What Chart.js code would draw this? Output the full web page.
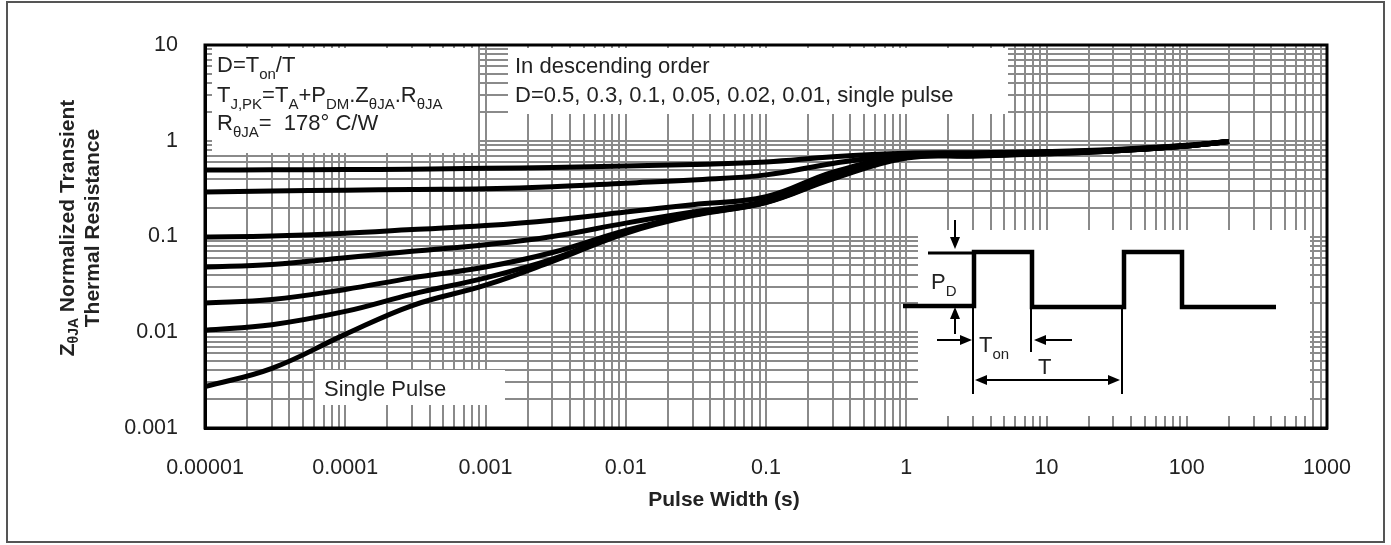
<!DOCTYPE html>
<html>
<head>
<meta charset="utf-8">
<script src="https://cdn.jsdelivr.net/npm/chart.js@4.4.0/dist/chart.umd.min.js"></script>
<style>
  html, body { margin: 0; padding: 0; background: #fff; }
  canvas { display: block; }
</style>
</head>
<body>
<canvas id="chartZth" width="1391" height="545"></canvas>
<script>
// pulse width (s) and normalized Zth for each duty cycle
const pulseWidth = [1e-5, 3e-5, 1e-4, 3e-4, 1e-3, 3e-3, 1e-2, 3e-2, 1e-1, 3e-1, 1, 3, 10, 30, 100, 200];
const dutyLabels = ['D=0.5', 'D=0.3', 'D=0.1', 'D=0.05', 'D=0.02', 'D=0.01', 'Single Pulse'];
const zD05 = [0.495, 0.497, 0.50, 0.505, 0.515, 0.525, 0.545, 0.565, 0.60, 0.68, 0.74, 0.75, 0.77, 0.81, 0.90, 0.98];
const zD03 = [0.292, 0.298, 0.305, 0.31, 0.315, 0.33, 0.36, 0.39, 0.44, 0.58, 0.72, 0.74, 0.76, 0.80, 0.89, 0.98];
const zD01 = [0.099, 0.101, 0.108, 0.118, 0.13, 0.148, 0.18, 0.215, 0.26, 0.47, 0.70, 0.72, 0.75, 0.79, 0.89, 0.98];
const zD005 = [0.048, 0.051, 0.06, 0.07, 0.082, 0.10, 0.138, 0.18, 0.235, 0.44, 0.69, 0.71, 0.74, 0.79, 0.88, 0.98];
const zD002 = [0.0202, 0.022, 0.028, 0.037, 0.048, 0.068, 0.116, 0.17, 0.23, 0.42, 0.68, 0.70, 0.74, 0.78, 0.88, 0.98];
const zD001 = [0.0105, 0.012, 0.0165, 0.025, 0.037, 0.058, 0.112, 0.168, 0.228, 0.41, 0.67, 0.70, 0.73, 0.78, 0.88, 0.98];
const zSingle = [0.0027, 0.0042, 0.0095, 0.019, 0.031, 0.055, 0.108, 0.165, 0.226, 0.40, 0.66, 0.69, 0.73, 0.78, 0.88, 0.98];

const xTickLabels = ['0.00001', '0.0001', '0.001', '0.01', '0.1', '1', '10', '100', '1000'];
const yTickLabels = ['0.001', '0.01', '0.1', '1', '10'];

const series = [zD05, zD03, zD01, zD005, zD002, zD001, zSingle];

// every 1..9 x 10^n tick so the grid gets all minor lines
function logTicks(minExp, maxExp) {
    const t = [];
    for (let e = minExp; e < maxExp; e++) {
        for (let m = 1; m < 10; m++) t.push({ value: m * Math.pow(10, e) });
    }
    t.push({ value: Math.pow(10, maxExp) });
    return t;
}

function decadeLabel(labels, minExp) {
    return function (value) {
        const lg = Math.log10(value);
        if (Math.abs(lg - Math.round(lg)) > 1e-6) return '';
        return labels[Math.round(lg) - minExp] || '';
    };
}

// text with subscripts: parts = [[text, isSub], ...]
function richText(ctx, parts, x, y, size, bold, align) {
    const mainFont = (bold ? 'bold ' : '') + size + 'px Arial';
    const subFont = (bold ? 'bold ' : '') + Math.round(size * 0.66) + 'px Arial';
    let w = 0;
    parts.forEach(p => { ctx.font = p[1] ? subFont : mainFont; w += ctx.measureText(p[0]).width; });
    let cx = align === 'center' ? x - w / 2 : x;
    ctx.textAlign = 'left';
    parts.forEach(p => {
        ctx.font = p[1] ? subFont : mainFont;
        ctx.fillText(p[0], cx, p[1] ? y + size * 0.3 : y);
        cx += ctx.measureText(p[0]).width;
    });
}

function arrowHead(ctx, x, y, dir) {
    const s = 7, h = 12;
    ctx.beginPath();
    if (dir === 'down') { ctx.moveTo(x, y); ctx.lineTo(x - s / 1.4, y - h); ctx.lineTo(x + s / 1.4, y - h); }
    if (dir === 'up') { ctx.moveTo(x, y); ctx.lineTo(x - s / 1.4, y + h); ctx.lineTo(x + s / 1.4, y + h); }
    if (dir === 'right') { ctx.moveTo(x, y); ctx.lineTo(x - h, y - s / 1.4); ctx.lineTo(x - h, y + s / 1.4); }
    if (dir === 'left') { ctx.moveTo(x, y); ctx.lineTo(x + h, y - s / 1.4); ctx.lineTo(x + h, y + s / 1.4); }
    ctx.closePath();
    ctx.fill();
}

const decorations = {
    id: 'decorations',
    beforeDraw(chart) {
        const ctx = chart.ctx;
        ctx.save();
        ctx.fillStyle = '#fff';
        ctx.fillRect(0, 0, chart.width, chart.height);
        ctx.strokeStyle = '#555';
        ctx.lineWidth = 2;
        ctx.strokeRect(7, 2, 1377, 540);
        ctx.restore();
    },
    beforeDatasetsDraw(chart) {
        const ctx = chart.ctx;
        ctx.save();
        ctx.fillStyle = '#fff';
        ctx.fillRect(212, 48, 266, 105);
        ctx.fillRect(508, 48, 500, 66);
        ctx.fillRect(315, 370, 190, 35);
        ctx.fillRect(918, 230, 392, 186);
        ctx.restore();
    },
    afterDraw(chart) {
        const ctx = chart.ctx;
        const area = chart.chartArea;
        ctx.save();
        // plot frame
        ctx.strokeStyle = '#000';
        ctx.lineWidth = 3;
        ctx.strokeRect(area.left, area.top, area.right - area.left, area.bottom - area.top);

        ctx.fillStyle = '#222';
        ctx.textBaseline = 'alphabetic';
        richText(ctx, [['D=T'], ['on', 1], ['/T']], 217, 72, 22, false);
        richText(ctx, [['T'], ['J,PK', 1], ['=T'], ['A', 1], ['+P'], ['DM', 1], ['.Z'], ['\u03b8JA', 1], ['.R'], ['\u03b8JA', 1]], 217, 102, 22, false);
        richText(ctx, [['R'], ['\u03b8JA', 1], ['=  178\u00b0 C/W']], 217, 130, 22, false);
        richText(ctx, [['In descending order']], 515, 73, 22, false);
        richText(ctx, [['D=0.5, 0.3, 0.1, 0.05, 0.02, 0.01, single pulse']], 515, 102, 22, false);
        richText(ctx, [['Single Pulse']], 324, 396, 22, false);

        // axis titles
        richText(ctx, [['Pulse Width (s)']], 724, 506, 21, true, 'center');
        ctx.save();
        ctx.translate(80, 228);
        ctx.rotate(-Math.PI / 2);
        ctx.textBaseline = 'middle';
        richText(ctx, [['Z'], ['\u03b8JA', 1], [' Normalized Transient']], 0, -12, 21, true, 'center');
        richText(ctx, [['Thermal Resistance']], 0, 13, 21, true, 'center');
        ctx.restore();

        // duty-cycle waveform inset
        ctx.strokeStyle = '#000';
        ctx.fillStyle = '#000';
        ctx.lineWidth = 4.5;
        ctx.lineJoin = 'miter';
        ctx.beginPath();
        ctx.moveTo(903, 306); ctx.lineTo(974, 306); ctx.lineTo(974, 252);
        ctx.lineTo(1032, 252); ctx.lineTo(1032, 307); ctx.lineTo(1124, 307);
        ctx.lineTo(1124, 252); ctx.lineTo(1182, 252); ctx.lineTo(1182, 307);
        ctx.lineTo(1276, 307);
        ctx.stroke();
        ctx.lineWidth = 3;
        ctx.beginPath();
        ctx.moveTo(928, 253); ctx.lineTo(974, 253);
        ctx.stroke();

        ctx.lineWidth = 2;
        ctx.beginPath();
        ctx.moveTo(955, 220); ctx.lineTo(955, 240);
        ctx.moveTo(955, 316); ctx.lineTo(955, 334);
        ctx.moveTo(937, 340); ctx.lineTo(964, 340);
        ctx.moveTo(1044, 340); ctx.lineTo(1072, 340);
        ctx.moveTo(973, 308); ctx.lineTo(973, 394);
        ctx.moveTo(1031, 309); ctx.lineTo(1031, 352);
        ctx.moveTo(1122, 309); ctx.lineTo(1122, 394);
        ctx.moveTo(984, 380); ctx.lineTo(1111, 380);
        ctx.stroke();
        arrowHead(ctx, 955, 249, 'down');
        arrowHead(ctx, 955, 307, 'up');
        arrowHead(ctx, 972, 340, 'right');
        arrowHead(ctx, 1034, 340, 'left');
        arrowHead(ctx, 975, 380, 'left');
        arrowHead(ctx, 1120, 380, 'right');

        ctx.fillStyle = '#222';
        richText(ctx, [['P'], ['D', 1]], 931, 289, 22, false);
        richText(ctx, [['T'], ['on', 1]], 979, 352, 22, false);
        richText(ctx, [['T']], 1038, 374, 22, false);
        ctx.restore();
    }
};

new Chart(document.getElementById('chartZth'), {
    type: 'line',
    data: {
        datasets: series.map((vals, i) => ({
            label: dutyLabels[i],
            data: vals.map((v, j) => ({ x: pulseWidth[j], y: v })),
            borderColor: '#000',
            backgroundColor: '#000',
            borderWidth: 5,
            pointRadius: 0,
            fill: false,
            tension: 0.4
        }))
    },
    options: {
        responsive: false,
        animation: false,
        devicePixelRatio: 1,
        layout: { padding: { left: 0, top: 45, right: 64, bottom: 0 } },
        plugins: {
            legend: { display: false },
            tooltip: { enabled: false }
        },
        scales: {
            x: {
                type: 'logarithmic',
                min: 1e-5,
                max: 1000,
                afterBuildTicks: s => { s.ticks = logTicks(-5, 3); },
                afterFit: s => { s.height = 117; },
                grid: { color: '#8a8a8a', lineWidth: 2, drawTicks: false },
                border: { display: true, color: '#000', width: 3 },
                ticks: {
                    autoSkip: false,
                    maxRotation: 0,
                    padding: 27,
                    color: '#222',
                    font: { family: 'Arial', size: 21.5 },
                    callback: decadeLabel(xTickLabels, -5)
                }
            },
            y: {
                type: 'logarithmic',
                min: 0.001,
                max: 10,
                afterBuildTicks: s => { s.ticks = logTicks(-3, 1); },
                afterFit: s => { s.width = 205; },
                grid: { color: '#8a8a8a', lineWidth: 2, drawTicks: false },
                border: { display: true, color: '#000', width: 3 },
                ticks: {
                    autoSkip: false,
                    padding: 27,
                    color: '#222',
                    font: { family: 'Arial', size: 21.5 },
                    callback: decadeLabel(yTickLabels, -3)
                }
            }
        }
    },
    plugins: [decorations]
});
</script>
</body>
</html>
